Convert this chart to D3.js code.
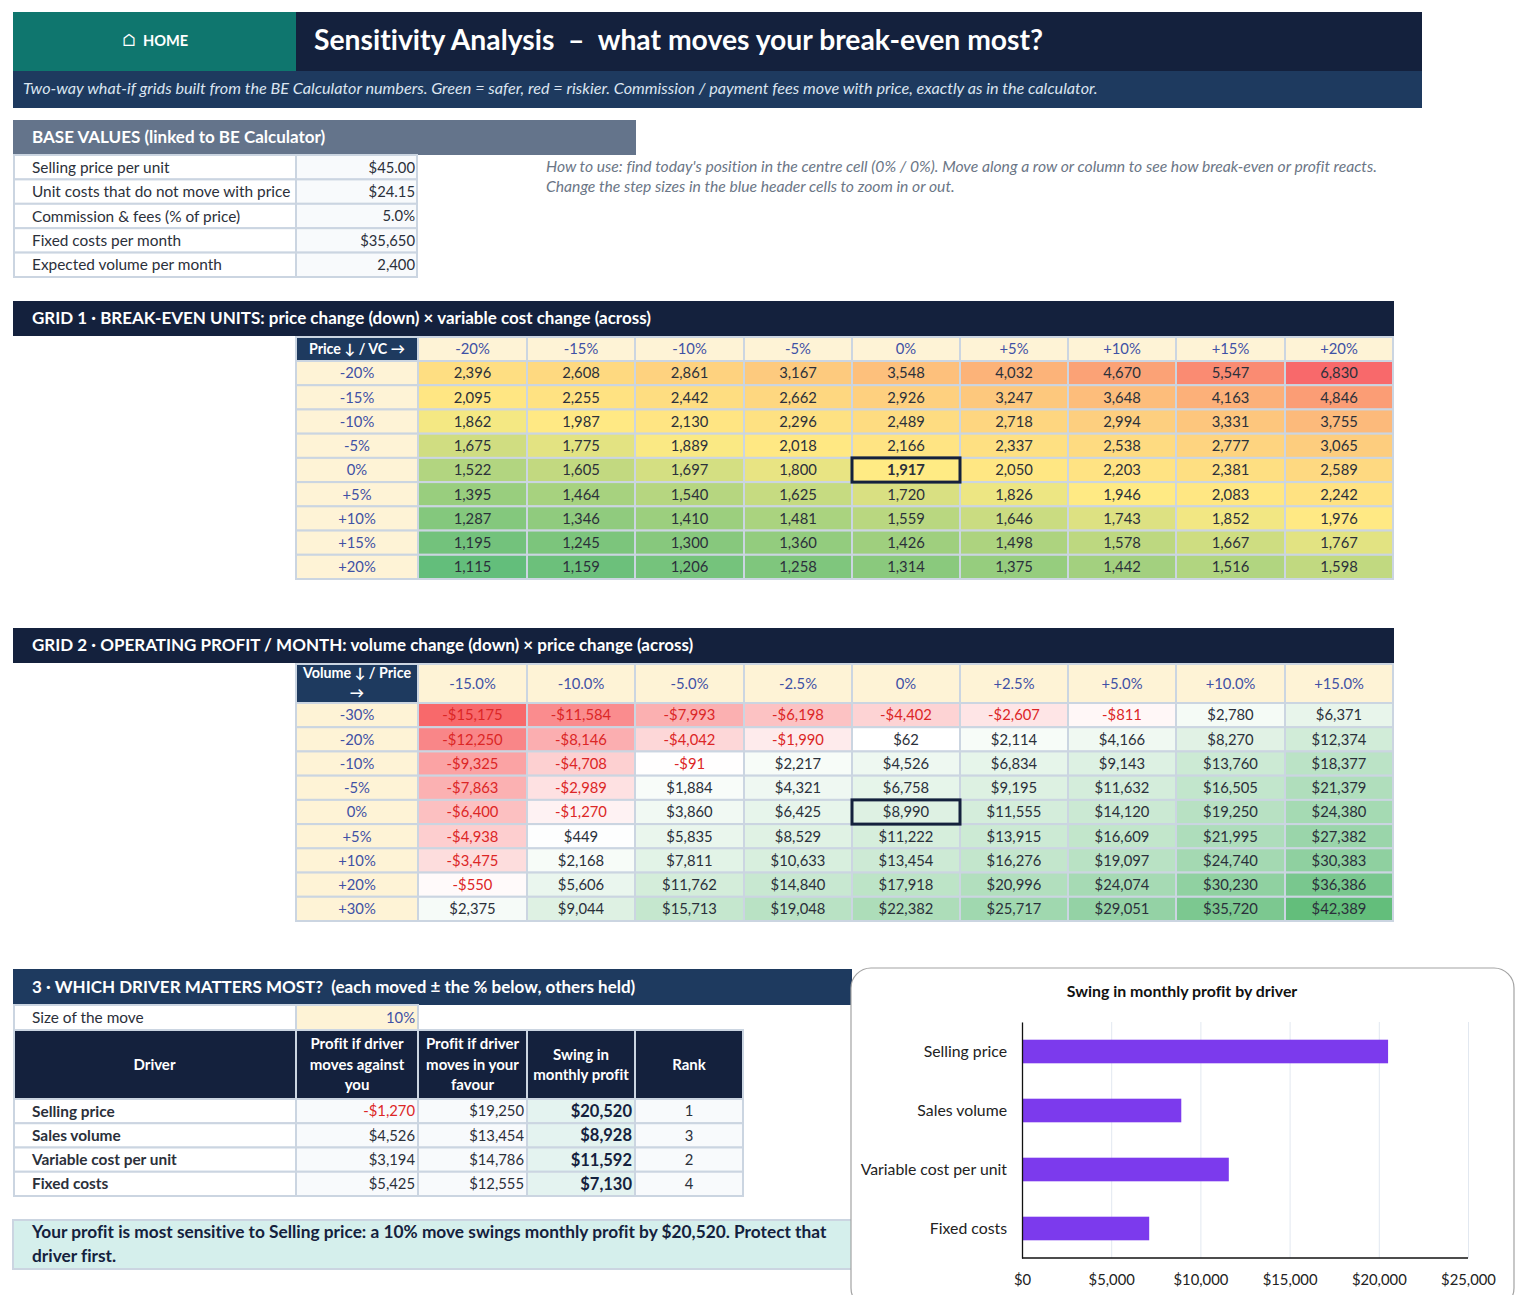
<!DOCTYPE html>
<html>
<head>
<meta charset="utf-8">
<script src="https://cdn.jsdelivr.net/npm/d3@7"></script>
<style>
html, body { margin: 0; background: #fff; }
svg { display: block; }
text { font-family: Lato, sans-serif; white-space: pre; font-variant-ligatures: none; }
</style>
</head>
<body>
<svg id="sheet" width="1527" height="1307"></svg>
<script>
// values
var baseLabels = ["Selling price per unit", "Unit costs that do not move with price", "Commission & fees (% of price)", "Fixed costs per month", "Expected volume per month"]
var baseValues = ["$45.00", "$24.15", "5.0%", "$35,650", "2,400"]

var grid1Cols = ["-20%", "-15%", "-10%", "-5%", "0%", "+5%", "+10%", "+15%", "+20%"]
var grid1Rows = ["-20%", "-15%", "-10%", "-5%", "0%", "+5%", "+10%", "+15%", "+20%"]
var grid1Values = [
	[2396, 2608, 2861, 3167, 3548, 4032, 4670, 5547, 6830],
	[2095, 2255, 2442, 2662, 2926, 3247, 3648, 4163, 4846],
	[1862, 1987, 2130, 2296, 2489, 2718, 2994, 3331, 3755],
	[1675, 1775, 1889, 2018, 2166, 2337, 2538, 2777, 3065],
	[1522, 1605, 1697, 1800, 1917, 2050, 2203, 2381, 2589],
	[1395, 1464, 1540, 1625, 1720, 1826, 1946, 2083, 2242],
	[1287, 1346, 1410, 1481, 1559, 1646, 1743, 1852, 1976],
	[1195, 1245, 1300, 1360, 1426, 1498, 1578, 1667, 1767],
	[1115, 1159, 1206, 1258, 1314, 1375, 1442, 1516, 1598]
]

var grid2Cols = ["-15.0%", "-10.0%", "-5.0%", "-2.5%", "0%", "+2.5%", "+5.0%", "+10.0%", "+15.0%"]
var grid2Rows = ["-30%", "-20%", "-10%", "-5%", "0%", "+5%", "+10%", "+20%", "+30%"]
var grid2Values = [
	[-15175, -11584, -7993, -6198, -4402, -2607, -811, 2780, 6371],
	[-12250, -8146, -4042, -1990, 62, 2114, 4166, 8270, 12374],
	[-9325, -4708, -91, 2217, 4526, 6834, 9143, 13760, 18377],
	[-7863, -2989, 1884, 4321, 6758, 9195, 11632, 16505, 21379],
	[-6400, -1270, 3860, 6425, 8990, 11555, 14120, 19250, 24380],
	[-4938, 449, 5835, 8529, 11222, 13915, 16609, 21995, 27382],
	[-3475, 2168, 7811, 10633, 13454, 16276, 19097, 24740, 30383],
	[-550, 5606, 11762, 14840, 17918, 20996, 24074, 30230, 36386],
	[2375, 9044, 15713, 19048, 22382, 25717, 29051, 35720, 42389]
]

var drivers = ["Selling price", "Sales volume", "Variable cost per unit", "Fixed costs"]
var profitAgainst = [-1270, 4526, 3194, 5425]
var profitFavour = [19250, 13454, 14786, 12555]
var swing = [20520, 8928, 11592, 7130]
var rank = [1, 3, 2, 4]
var chartTicks = [0, 5000, 10000, 15000, 20000, 25000]

var navy = "#14213d", blue = "#1e3a5f", line = "#cbd5e1", cream = "#fef3d6", ink = "#2b303a", inputBlue = "#3f51a5", red = "#dc2626"
var textSize = 15.4, numSize = 14.8, barSize = 17
var dollars = d3.format("$,")
var money = function (v) { return v < 0 ? "-" + dollars(-v) : dollars(v) }

var svg = d3.select("#sheet")
var colEdges = [13, 296, 418, 527, 635, 744, 852, 960, 1068, 1176, 1285, 1393]

function box(x0, y0, x1, y1, fill, stroke) {
	return svg.append("rect").attr("x", x0).attr("y", y0).attr("width", x1 - x0).attr("height", y1 - y0)
		.attr("fill", fill).attr("stroke", stroke || "none").attr("stroke-width", stroke ? 2 : 0)
}

function label(x, y, str, size, color, opts) {
	opts = opts || {}
	return svg.append("text").attr("x", x).attr("y", y).attr("dy", "0.36em").text(str)
		.attr("font-size", size).attr("fill", color)
		.attr("text-anchor", opts.anchor || "start")
		.attr("font-weight", opts.weight || 400)
		.attr("font-style", opts.italic ? "italic" : "normal")
}

// banner
box(13, 12, 296, 71, "#0f766e")
box(296, 12, 1422, 71, navy)
box(13, 71, 1422, 108, blue)
label(129, 40, "⌂", 17, "#fff", { anchor: "middle" })
label(143, 41, "HOME", 14.6, "#fff", { weight: 700 })
label(314, 40, "Sensitivity Analysis  –  what moves your break-even most?", 28.3, "#fff", { weight: 700 })
label(23, 88.5, "Two-way what-if grids built from the BE Calculator numbers. Green = safer, red = riskier. Commission / payment fees move with price, exactly as in the calculator.", 16.2, "#dbe5f1", { italic: true })

// base values
box(13, 120, 636, 155, "#64748b")
label(32, 137, "BASE VALUES (linked to BE Calculator)", barSize, "#fff", { weight: 700 })
var baseY = d3.scaleBand().domain(baseLabels).range([155, 277])
baseLabels.forEach(function (name, i) {
	box(14, baseY(name), 296, baseY(name) + baseY.bandwidth(), "#fff", line)
	box(296, baseY(name), 417, baseY(name) + baseY.bandwidth(), "#f8fafc", line)
	label(32, baseY(name) + baseY.bandwidth() / 2, name, textSize, ink)
	label(415, baseY(name) + baseY.bandwidth() / 2, baseValues[i], numSize, ink, { anchor: "end" })
})
label(546, 166.5, "How to use: find today's position in the centre cell (0% / 0%). Move along a row or column to see how break-even or profit reacts.", 15.7, "#6b7686", { italic: true })
label(546, 186.5, "Change the step sizes in the blue header cells to zoom in or out.", 15.7, "#6b7686", { italic: true })

// the two what-if grids share one routine
function heatGrid(o) {
	box(13, o.barTop, 1394, o.barTop + 35, navy)
	label(32, o.barTop + 17, o.title, barSize, "#fff", { weight: 700 })

	var y = d3.scaleBand().domain(o.rows).range([o.bodyTop, o.bodyTop + 218])

	box(296, o.headTop, 418, o.bodyTop, blue, line)
	o.cornerText.forEach(function (t, i) {
		label(357, o.cornerY + i * 20, t, 14.3, "#fff", { anchor: "middle", weight: 700 })
	})

	o.cols.forEach(function (c, j) {
		var x0 = colEdges[j + 2], x1 = colEdges[j + 3]
		box(x0, o.headTop, x1, o.bodyTop, cream, line)
		label((x0 + x1) / 2, (o.headTop + o.bodyTop) / 2, c, numSize, inputBlue, { anchor: "middle" })
	})

	o.rows.forEach(function (r, i) {
		var ry = y(r), h = y.bandwidth()
		box(296, ry, 418, ry + h, cream, line)
		label(357, ry + h / 2, r, numSize, inputBlue, { anchor: "middle" })
		o.values[i].forEach(function (v, j) {
			var x0 = colEdges[j + 2], x1 = colEdges[j + 3]
			box(x0, ry, x1, ry + h, o.color(v), line)
			label((x0 + x1) / 2, ry + h / 2, o.format(v), numSize, v < 0 ? red : ink, { anchor: "middle", weight: (i == 4 && j == 4 && o.boldCentre) ? 700 : 400 })
		})
	})

	// base case marker
	svg.append("rect").attr("x", colEdges[6]).attr("y", y(o.rows[4]))
		.attr("width", colEdges[7] - colEdges[6]).attr("height", y.bandwidth())
		.attr("fill", "none").attr("stroke", navy).attr("stroke-width", 3)
}

heatGrid({
	barTop: 301,
	headTop: 337,
	bodyTop: 361,
	cornerY: 349,
	title: "GRID 1 · BREAK-EVEN UNITS: price change (down) × variable cost change (across)",
	cornerText: ["Price ↓ / VC →"],
	cols: grid1Cols,
	rows: grid1Rows,
	values: grid1Values,
	format: d3.format(","),
	boldCentre: true,
	color: d3.scaleLinear().domain([d3.min(grid1Values.flat()), d3.median(grid1Values.flat()), d3.max(grid1Values.flat())]).range(["#63be7b", "#ffeb84", "#f8696b"])
})

heatGrid({
	barTop: 628,
	headTop: 664,
	bodyTop: 703,
	cornerY: 673,
	title: "GRID 2 · OPERATING PROFIT / MONTH: volume change (down) × price change (across)",
	cornerText: ["Volume ↓ / Price", "→"],
	cols: grid2Cols,
	rows: grid2Rows,
	values: grid2Values,
	format: money,
	boldCentre: false,
	color: d3.scaleLinear().domain([-15175, 0, 42389]).range(["#f8696b", "#ffffff", "#63be7b"])
})

// driver table
box(13, 969, 852, 1005, blue)
label(32, 987, "3 · WHICH DRIVER MATTERS MOST?  (each moved ± the % below, others held)", barSize, "#fff", { weight: 700 })
box(14, 1005, 296, 1030, "#fff", line)
box(296, 1005, 418, 1030, cream, line)
label(32, 1017.5, "Size of the move", textSize, ink)
label(415, 1017.5, "10%", numSize, inputBlue, { anchor: "end" })

var tableEdges = [13, 296, 418, 527, 635, 743]
var tableHead = [["Driver"], ["Profit if driver", "moves against", "you"], ["Profit if driver", "moves in your", "favour"], ["Swing in", "monthly profit"], ["Rank"]]
tableHead.forEach(function (lines, j) {
	box(tableEdges[j] + (j == 0 ? 1 : 0), 1030, tableEdges[j + 1], 1099, navy, line)
	lines.forEach(function (t, k) {
		label((tableEdges[j] + tableEdges[j + 1]) / 2, 1064.5 + (k - (lines.length - 1) / 2) * 20.5, t, 15, "#fff", { anchor: "middle", weight: 700 })
	})
})

var driverY = d3.scaleBand().domain(drivers).range([1099, 1196])
drivers.forEach(function (d, i) {
	var ry = driverY(d), h = driverY.bandwidth(), mid = ry + h / 2
	box(14, ry, 296, ry + h, "#fff", line)
	box(296, ry, 418, ry + h, "#f8fafc", line)
	box(418, ry, 527, ry + h, "#f8fafc", line)
	box(527, ry, 635, ry + h, "#e4f3f0", line)
	box(635, ry, 743, ry + h, "#f8fafc", line)
	label(32, mid, d, textSize, ink, { weight: 700 })
	label(415, mid, money(profitAgainst[i]), numSize, profitAgainst[i] < 0 ? red : ink, { anchor: "end" })
	label(524, mid, money(profitFavour[i]), numSize, ink, { anchor: "end" })
	label(632, mid, money(swing[i]), 16.5, navy, { anchor: "end", weight: 700 })
	label(689, mid, rank[i], numSize, ink, { anchor: "middle" })
})

box(13, 1220, 852, 1269, "#d5efec", line)
label(32, 1232, "Your profit is most sensitive to Selling price: a 10% move swings monthly profit by $20,520. Protect that", 17.3, navy, { weight: 700 })
label(32, 1256, "driver first.", 17.3, navy, { weight: 700 })

// chart card, its bottom edge is cut off in the sheet
svg.append("clipPath").attr("id", "cardClip").append("rect").attr("x", 840).attr("y", 960).attr("width", 687).attr("height", 335)
svg.append("rect").attr("x", 851).attr("y", 968).attr("width", 663).attr("height", 340).attr("rx", 20)
	.attr("fill", "#fff").attr("stroke", "#a3a3a3").attr("stroke-width", 1.2).attr("clip-path", "url(#cardClip)")
label(1182, 991.5, "Swing in monthly profit by driver", 15.9, "#111", { anchor: "middle", weight: 700 })

var x = d3.scaleLinear().domain([0, 25000]).range([1022, 1468])
var y = d3.scaleBand().domain(drivers).range([1022, 1258]).paddingInner(0.6).paddingOuter(0.3)

var xAxis = svg.append("g").attr("transform", "translate(0,1258)")
	.call(d3.axisBottom(x).tickValues(chartTicks).tickFormat(dollars).tickSize(-236).tickPadding(16))
xAxis.select(".domain").remove()
xAxis.selectAll(".tick line").attr("stroke", "#e2e8f0")
xAxis.selectAll(".tick text").attr("font-size", numSize).attr("fill", "#222").attr("font-family", "Lato, sans-serif")

svg.selectAll(".bar").data(drivers).join("rect").attr("class", "bar")
	.attr("x", x(0))
	.attr("y", function (d) { return y(d) })
	.attr("width", function (d, i) { return x(swing[i]) - x(0) })
	.attr("height", y.bandwidth())
	.attr("fill", "#7c3aed")

var yAxis = svg.append("g").attr("transform", "translate(1022,0)")
	.call(d3.axisLeft(y).tickSize(0).tickPadding(15))
yAxis.select(".domain").attr("stroke", "#111").attr("stroke-width", 1.3)
yAxis.selectAll(".tick text").attr("font-size", 15.8).attr("fill", "#222").attr("font-family", "Lato, sans-serif")

svg.append("line").attr("x1", x(0)).attr("x2", x(25000)).attr("y1", 1258).attr("y2", 1258).attr("stroke", "#111").attr("stroke-width", 1.3)
</script>
</body>
</html>
